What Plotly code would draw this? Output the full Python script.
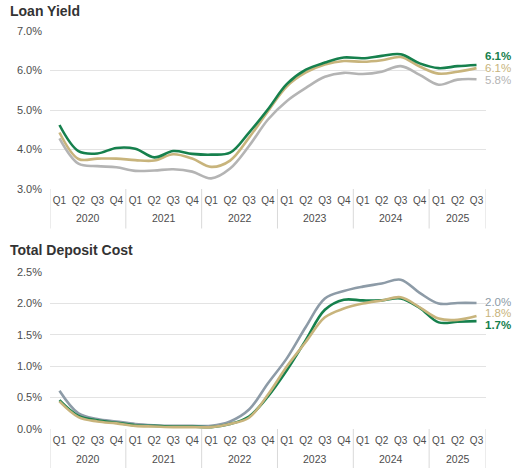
import plotly.graph_objects as go

years = ["2020", "2020", "2020", "2020", "2021", "2021", "2021", "2021",
         "2022", "2022", "2022", "2022", "2023", "2023", "2023", "2023",
         "2024", "2024", "2024", "2024", "2025", "2025", "2025"]
quarters = ["Q1", "Q2", "Q3", "Q4", "Q1", "Q2", "Q3", "Q4",
            "Q1", "Q2", "Q3", "Q4", "Q1", "Q2", "Q3", "Q4",
            "Q1", "Q2", "Q3", "Q4", "Q1", "Q2", "Q3"]

loan_green = [4.62, 3.96, 3.90, 4.04, 4.02, 3.80, 3.96, 3.89, 3.87, 3.92, 4.43, 5.02,
              5.66, 6.02, 6.20, 6.33, 6.31, 6.37, 6.41, 6.18, 6.06, 6.11, 6.14]
loan_gold = [4.43, 3.76, 3.77, 3.77, 3.73, 3.72, 3.88, 3.77, 3.56, 3.72, 4.30, 4.97,
             5.60, 5.95, 6.15, 6.24, 6.22, 6.26, 6.34, 6.10, 5.92, 5.97, 6.06]
loan_grey = [4.28, 3.64, 3.58, 3.55, 3.46, 3.47, 3.50, 3.44, 3.27, 3.52, 4.09, 4.76,
             5.23, 5.56, 5.84, 5.94, 5.91, 5.97, 6.11, 5.89, 5.64, 5.77, 5.78]

dep_grey = [0.61, 0.25, 0.16, 0.12, 0.08, 0.06, 0.05, 0.05, 0.05, 0.12, 0.31, 0.73,
            1.13, 1.63, 2.08, 2.20, 2.27, 2.32, 2.38, 2.17, 2.00, 2.01, 2.01]
dep_green = [0.46, 0.21, 0.14, 0.10, 0.06, 0.05, 0.04, 0.04, 0.03, 0.08, 0.20, 0.52,
             0.94, 1.42, 1.90, 2.06, 2.05, 2.05, 2.08, 1.93, 1.70, 1.71, 1.72]
dep_gold = [0.44, 0.19, 0.12, 0.09, 0.05, 0.04, 0.03, 0.03, 0.03, 0.08, 0.18, 0.55,
            1.00, 1.39, 1.78, 1.92, 2.00, 2.05, 2.10, 1.94, 1.76, 1.74, 1.80]

loan_ticks = [3.0, 4.0, 5.0, 6.0, 7.0]
dep_ticks = [0.0, 0.5, 1.0, 1.5, 2.0, 2.5]

GREEN = "#16804d"
GOLD = "#c8b47c"
GREY_TOP = "#b4b4b4"
GREY_BOT = "#8d9ba7"
FONT = "Liberation Sans, Arial, sans-serif"
TICKC = "#4d4d4d"

cats = [f"{y} {q}" for y, q in zip(years, quarters)]
n = len(cats)

fig = go.Figure()

def add(y, color, xa, ya):
    fig.add_trace(go.Scatter(x=cats, y=y, mode="lines", line=dict(color=color, width=2.6, shape="spline"),
                             xaxis=xa, yaxis=ya, showlegend=False, hoverinfo="skip"))

add(loan_grey, GREY_TOP, "x", "y")
add(loan_gold, GOLD, "x", "y")
add(loan_green, GREEN, "x", "y")
add(dep_grey, GREY_BOT, "x2", "y2")
add(dep_green, GREEN, "x2", "y2")
add(dep_gold, GOLD, "x2", "y2")

xcommon = dict(type="category", categoryorder="array", categoryarray=cats,
               tickvals=cats, ticktext=quarters, range=[-0.5, n - 0.5],
               showgrid=False, showline=False, zeroline=False, tickangle=0,
               tickfont=dict(family=FONT, size=10, color=TICKC), ticks="",
               ticklabelstandoff=4, automargin=False, fixedrange=True)
ycommon = dict(showgrid=True, gridcolor="#e3e3e3", gridwidth=1, zeroline=False, showline=False,
               tickfont=dict(family=FONT, size=11, color=TICKC), ticks="",
               ticklabelstandoff=7, automargin=False, fixedrange=True)

fig.update_layout(
    width=513, height=468,
    margin=dict(l=50, r=27, t=31, b=39),
    paper_bgcolor="white", plot_bgcolor="white",
    xaxis=dict(domain=[0, 1], anchor="y", **xcommon),
    yaxis=dict(domain=[0.603, 1.0], anchor="x", range=[3.0, 7.0], tickvals=loan_ticks,
               ticktext=[f"{v:.1f}%" for v in loan_ticks], **ycommon),
    xaxis2=dict(domain=[0, 1], anchor="y2", **xcommon),
    yaxis2=dict(domain=[0.0, 0.394], anchor="x2", range=[0.0, 2.5], tickvals=dep_ticks,
                ticktext=[f"{v:.1f}%" for v in dep_ticks], **ycommon),
)

ann = []
shapes = []
ann.append(dict(text="<b>Loan Yield</b>", xref="paper", yref="paper", x=-0.096, y=1.0,
                yshift=20, xanchor="left", yanchor="middle", showarrow=False,
                font=dict(family=FONT, size=14, color="#333333")))
ann.append(dict(text="<b>Total Deposit Cost</b>", xref="paper", yref="paper", x=-0.096, y=0.394,
                yshift=22, xanchor="left", yanchor="middle", showarrow=False,
                font=dict(family=FONT, size=14, color="#333333")))

# year group labels and dividers
unique_years = []
for yv in years:
    if yv not in unique_years:
        unique_years.append(yv)
for xa, ydom, ypos in [("x", "y domain", -0.185), ("x2", "y2 domain", -0.19)]:
    bounds = [-0.5]
    for yv in unique_years:
        idx = [i for i, v in enumerate(years) if v == yv]
        ann.append(dict(text=yv, xref=xa, yref=ydom, x=(idx[0] + idx[-1]) / 2, y=ypos,
                        xanchor="center", yanchor="middle", showarrow=False,
                        font=dict(family=FONT, size=10.5, color=TICKC)))
        bounds.append(idx[-1] + 0.5)
    for b in bounds:
        shapes.append(dict(type="line", xref=xa, yref=ydom, x0=b, x1=b, y0=0, y1=-0.25,
                           line=dict(color="#d9d9d9", width=1), layer="below"))

end_labels = [
    (loan_green, GREEN, "y", 9, True),
    (loan_gold, GOLD, "y", 0, False),
    (loan_grey, GREY_TOP, "y", -1, False),
    (dep_grey, GREY_BOT, "y2", 1, False),
    (dep_gold, GOLD, "y2", 3, False),
    (dep_green, GREEN, "y2", -4, True),
]
for ser, col, yr, ys, bold in end_labels:
    t = f"{ser[-1]:.1f}%"
    if bold:
        t = f"<b>{t}</b>"
    ann.append(dict(text=t, xref="paper", yref=yr, x=1.0, y=ser[-1], xanchor="left",
                    yanchor="middle", xshift=-2, yshift=ys, showarrow=False, borderpad=0,
                    font=dict(family=FONT, size=11.5, color=col)))
fig.update_layout(annotations=ann, shapes=shapes)

fig.write_html("out.html", config={"displayModeBar": False},
               post_script="document.body.style.margin='0';document.body.style.overflow='hidden';")
